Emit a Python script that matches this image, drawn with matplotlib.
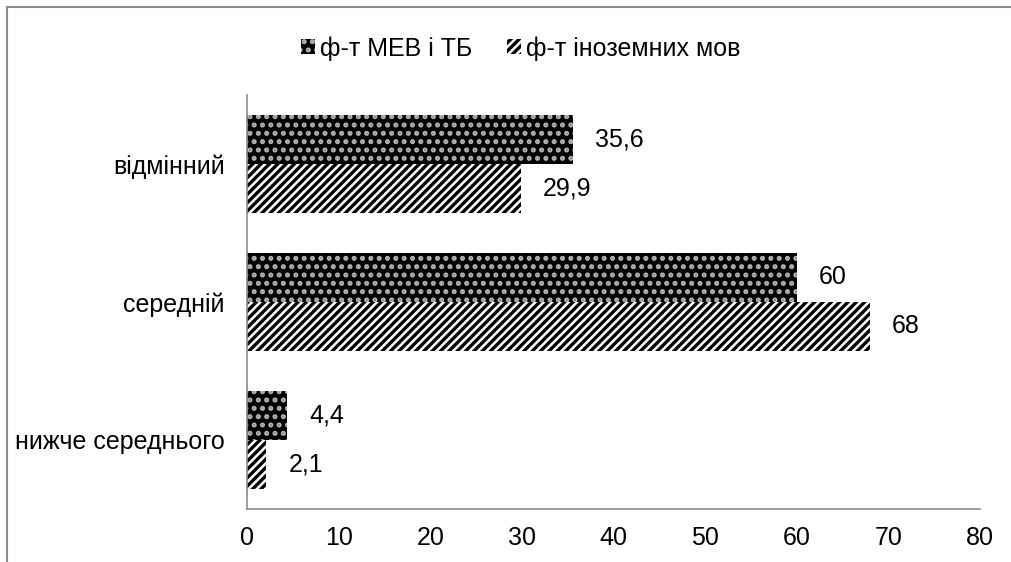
import numpy as np
import matplotlib
matplotlib.use("Agg")
from matplotlib import pyplot as plt
from matplotlib.patches import Rectangle, Patch

# data
categories = ["нижче середнього", "середній", "відмінний"]
series_names = ["ф-т МЕВ і ТБ", "ф-т іноземних мов"]
mev_values = [4.4, 60, 35.6]
lang_values = [2.1, 68, 29.9]
xticks = np.arange(0, 90, 10)

FS = 18
plt.rcParams.update({"font.family": ["Liberation Sans", "DejaVu Sans"], "font.size": FS,
                     "hatch.linewidth": 2.4})

fig = plt.figure(figsize=(10.11, 5.62), dpi=100)
ax = fig.add_axes([0.2443, 0.0943, 0.7250, 0.7367])

y = np.arange(len(categories))
h = 0.355

bars_mev = ax.barh(y + h / 2, mev_values, height=h, facecolor="black",
                   edgecolor="#b4b4b4", hatch="..", linewidth=0)
bars_lang = ax.barh(y - h / 2, lang_values, height=h, facecolor="white",
                    edgecolor="black", hatch="////", linewidth=0)

def fmt(v):
    return f"{v:g}".replace(".", ",")

for bars, vals in [(bars_mev, mev_values), (bars_lang, lang_values)]:
    for b, v in zip(bars, vals):
        ax.annotate(fmt(v), (b.get_width(), b.get_y() + b.get_height() / 2),
                    xytext=(16, 0), textcoords="offset points",
                    ha="left", va="center", fontsize=FS)

ax.set_xlim(0, 80)
ax.set_ylim(-0.5, 2.5)
ax.set_xticks(xticks)
ax.set_yticks(y)
ax.set_yticklabels(categories)
ax.tick_params(axis="both", length=0, labelsize=FS)
ax.tick_params(axis="x", pad=12)
ax.tick_params(axis="y", pad=16)
for s in ["top", "right"]:
    ax.spines[s].set_visible(False)
for s in ["left", "bottom"]:
    ax.spines[s].set_color("#8c8c8c")
    ax.spines[s].set_linewidth(1.2)

handles = [Patch(facecolor="black", edgecolor="#b4b4b4", hatch="..", linewidth=0),
           Patch(facecolor="white", edgecolor="black", hatch="////", linewidth=0)]
fig.legend(handles, series_names, loc="center", bbox_to_anchor=(0.515, 0.914),
           ncol=2, frameon=False, handlelength=0.55, handleheight=0.55,
           handletextpad=0.2, columnspacing=1.4, fontsize=FS)

# chart border (top and left visible)
fig.patches.append(Rectangle((7 / 1011, -0.05), 1.2, (562 - 7) / 562 + 0.05,
                             transform=fig.transFigure, fill=False,
                             edgecolor="#8c8c8c", linewidth=1.5))

fig.savefig("out.png", dpi=100)
